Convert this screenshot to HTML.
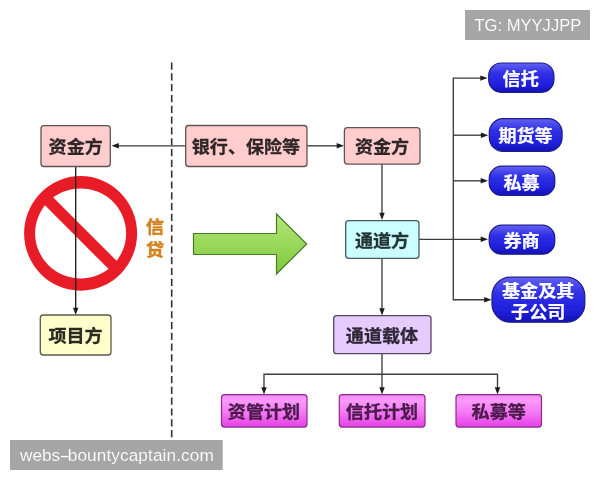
<!DOCTYPE html>
<html lang="zh">
<head>
<meta charset="utf-8">
<title>通道业务结构图</title>
<style>
html,body{margin:0;padding:0;background:#fff;}
body{width:600px;height:480px;overflow:hidden;position:relative;font-family:"Liberation Sans","Noto Sans CJK SC",sans-serif;}
svg{position:absolute;left:0;top:0;display:block;}
.t{font-family:"Liberation Sans","Noto Sans CJK SC",sans-serif;font-weight:bold;font-size:17.9px;text-anchor:middle;}
.t text{transform-box:fill-box;transform-origin:50% 58%;transform:scale(1.01,0.98);}
.d{fill:#2e2626;stroke:#2e2626;stroke-width:0.3;}
.w{fill:#fff;stroke:#fff;stroke-width:0.25;}
.m{fill:#4a1a4a;stroke:#4a1a4a;stroke-width:0.3;}
.ln{stroke:#3c3c3c;stroke-width:1.35;fill:none;}
.ah{fill:#1c1c1c;}
.wm{font-family:"Liberation Sans","Noto Sans CJK SC",sans-serif;fill:#fff;}
</style>
</head>
<body>
<svg width="600" height="480" viewBox="0 0 600 480">
<defs>
<linearGradient id="gb" x1="0" y1="0" x2="0" y2="1">
<stop offset="0" stop-color="#6262f2"/>
<stop offset="0.35" stop-color="#3030e6"/>
<stop offset="0.75" stop-color="#2020dc"/>
<stop offset="1" stop-color="#1212b4"/>
</linearGradient>
<linearGradient id="gm" x1="0" y1="0" x2="0" y2="1">
<stop offset="0" stop-color="#f486f4"/>
<stop offset="0.18" stop-color="#fb9afb"/>
<stop offset="0.55" stop-color="#f478f4"/>
<stop offset="1" stop-color="#e440e4"/>
</linearGradient>
<linearGradient id="gg" x1="0" y1="0" x2="0" y2="1">
<stop offset="0" stop-color="#b5e878"/>
<stop offset="1" stop-color="#7ec83c"/>
</linearGradient>
<filter id="soft" x="0" y="0" width="600" height="480" filterUnits="userSpaceOnUse">
<feGaussianBlur stdDeviation="0.6"/>
</filter>
</defs>
<rect width="600" height="480" fill="#fff"/>
<g filter="url(#soft)">
<rect width="600" height="480" fill="#fff"/>

<!-- dashed divider -->
<line x1="171.7" y1="62.5" x2="171.7" y2="437.3" stroke="#333" stroke-width="1.6" stroke-dasharray="7.2 3.61"/>

<!-- no sign -->
<path fill="#e81f28" fill-rule="evenodd" d="M24.1 233.4 a56.5 57.3 0 1 0 113 0 a56.5 57.3 0 1 0 -113 0 Z M35.1 233.4 a45.5 45 0 1 1 91 0 a45.5 45 0 1 1 -91 0 Z"/>
<line x1="46" y1="198.3" x2="116" y2="268.3" stroke="#e81f28" stroke-width="11.5"/>

<!-- connectors -->
<g class="ln">
<line x1="75.7" y1="166" x2="75.7" y2="309" stroke="#1e1e1e"/>
<line x1="185" y1="145.8" x2="117" y2="145.8"/>
<line x1="307" y1="145.8" x2="338" y2="145.8"/>
<line x1="382" y1="164" x2="382" y2="214"/>
<line x1="382" y1="258" x2="382" y2="310"/>
<line x1="419" y1="239.3" x2="482" y2="239.3"/>
<polyline points="482,78.1 453.3,78.1 453.3,299.7 485,299.7"/>
<line x1="453.3" y1="135.2" x2="482" y2="135.2"/>
<line x1="453.3" y1="180.8" x2="482" y2="180.8"/>
<line x1="382" y1="354" x2="382" y2="388"/>
<polyline points="264,388 264,374.2 497.5,374.2 497.5,388"/>
</g>
<g class="ah">
<path d="M75.7 315 l-2.7 -7.3 h5.4 z"/>
<path d="M111.5 145.8 l7.3 -2.7 v5.4 z"/>
<path d="M344 145.8 l-7.3 -2.7 v5.4 z"/>
<path d="M382 220 l-2.7 -7.3 h5.4 z"/>
<path d="M382 315.5 l-2.7 -7.3 h5.4 z"/>
<path d="M488 239.3 l-7.3 -2.7 v5.4 z"/>
<path d="M487.6 78.1 l-7.3 -2.7 v5.4 z"/>
<path d="M488.2 135.2 l-7.3 -2.7 v5.4 z"/>
<path d="M488 180.8 l-7.3 -2.7 v5.4 z"/>
<path d="M491.5 299.7 l-7.3 -2.7 v5.4 z"/>
<path d="M382 394.5 l-2.7 -7.3 h5.4 z"/>
<path d="M264 394.5 l-2.7 -7.3 h5.4 z"/>
<path d="M497.5 394.5 l-2.7 -7.3 h5.4 z"/>
</g>

<!-- big green arrow -->
<path d="M193.5 233.5 H276.5 V214 L306.7 244 L276.5 274 V254.5 H193.5 Z" fill="url(#gg)" stroke="#4a7a2a" stroke-width="1.2" stroke-linejoin="miter"/>

<!-- boxes -->
<g stroke="#625252" stroke-width="1.3">
<rect x="41" y="125.6" width="69.3" height="40.9" rx="3" fill="#ffcdcd"/>
<rect x="185.7" y="125.5" width="121.3" height="41" rx="3" fill="#ffcdcd"/>
<rect x="344.4" y="127.7" width="75.6" height="36.4" rx="3" fill="#ffcdcd"/>
<rect x="345.7" y="220.7" width="73.3" height="37.6" rx="3" fill="#ccffff" stroke="#455c5c"/>
<rect x="333.7" y="315.7" width="97.3" height="38" rx="3" fill="#e5cbff" stroke="#54485f"/>
<rect x="40.3" y="315" width="70.7" height="40" rx="3" fill="#ffffcc" stroke="#5a5a4a"/>
</g>
<g stroke="#8a2a8a" stroke-width="1.2">
<rect x="221.5" y="394.7" width="85.5" height="32.4" rx="3" fill="url(#gm)"/>
<rect x="339.3" y="394.7" width="85.7" height="32.4" rx="3" fill="url(#gm)"/>
<rect x="456" y="394.7" width="85.5" height="32.4" rx="3" fill="url(#gm)"/>
</g>
<g stroke="#1a1a8a" stroke-width="1.2">
<rect x="488.7" y="63" width="65.2" height="29.3" rx="12.5" fill="url(#gb)"/>
<rect x="489.3" y="118.6" width="72.8" height="32.8" rx="14" fill="url(#gb)"/>
<rect x="489.2" y="166.2" width="65.6" height="29.3" rx="12.5" fill="url(#gb)"/>
<rect x="489.2" y="225.2" width="65.6" height="29" rx="12.5" fill="url(#gb)"/>
<rect x="492" y="277.2" width="92.8" height="45" rx="18.5" fill="url(#gb)"/>
</g>

<!-- labels -->
<g class="t d">
<text x="75.7" y="153.6">资金方</text>
<text x="246" y="153.6">银行、保险等</text>
<text x="382" y="153.6">资金方</text>
<text x="382" y="247.1" fill="#243434" stroke="#243434">通道方</text>
<text x="382" y="342.1" fill="#2e2836" stroke="#2e2836">通道载体</text>
<text x="75.5" y="342.6" fill="#2c2c20" stroke="#2c2c20">项目方</text>
</g>
<g class="t m">
<text x="264" y="418.2">资管计划</text>
<text x="382" y="418.2">信托计划</text>
<text x="498.7" y="418.2">私募等</text>
</g>
<g class="t w">
<text x="520.7" y="85.2">信托</text>
<text x="525.6" y="142.6">期货等</text>
<text x="521.6" y="188.7">私募</text>
<text x="521.6" y="247.5">券商</text>
<text><tspan x="538.2" y="296.9">基金及其</tspan><tspan x="538.2" y="318.4">子公司</tspan></text>
</g>
<g class="t" fill="#d5801c" stroke="#d5801c" stroke-width="0.4">
<text><tspan x="155" y="232.9">信</tspan><tspan x="155" y="256.1">贷</tspan></text>
</g>
</g>

<!-- watermarks -->
<g opacity="0.999">
<rect x="465" y="10" width="125" height="30" fill="#a6a6a6"/>
<text class="wm" x="474.4" y="30.9" font-size="16.6" stroke="#a6a6a6" stroke-width="0.12">TG: MYYJJPP</text>
<rect x="10" y="440" width="212.7" height="30" fill="#a6a6a6"/>
<text class="wm" x="20" y="461" font-size="17.2" stroke="#a6a6a6" stroke-width="0.12">webs<tspan dx="-0.6" textLength="10.8" lengthAdjust="spacingAndGlyphs">-</tspan><tspan dx="-2.6" letter-spacing="0.11">bountycaptain.com</tspan></text>
</g>
</svg>
</body>
</html>
